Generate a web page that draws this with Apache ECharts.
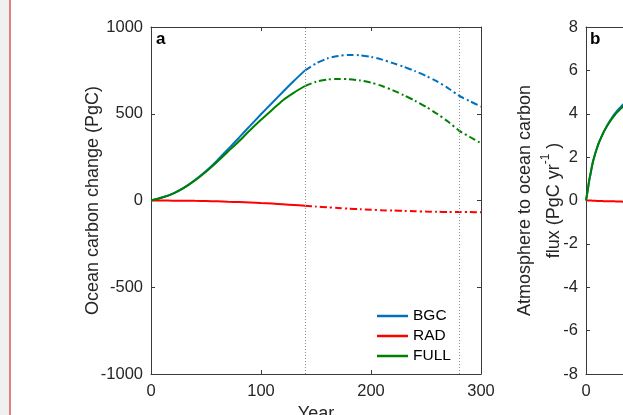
<!DOCTYPE html>
<html><head><meta charset="utf-8">
<script src="https://cdn.jsdelivr.net/npm/echarts@6/dist/echarts.min.js"></script>
<style>html,body{margin:0;padding:0;background:#fff}#c{width:623px;height:415px}</style>
</head><body><div id="c"></div>
<script>
// ---- Panel a data (cumulative ocean carbon change, PgC) ----
const yearsSolid = [0,10,20,30,40,50,60,70,80,90,100,110,120,130,140];
const bgcSolid  = [0,17,40,74,118,170,230,295,362,430,497,562,627,690,750];
const radSolid  = [0,0,-1,-1,-2,-3,-5,-7,-9,-12,-15,-18,-22,-26,-30];
const fullSolid = [0,17,40,73,116,166,222,282,342,405,465,522,578,622,660];

const yearsDash = [140,150,160,170,180,190,200,210,220,230,240,250,260,270,280,290,300];
const bgcDash  = [750,790,818,833,839,837,828,812,792,770,746,718,686,648,604,572,541];
const radDash  = [-30,-35,-39,-43,-47,-50,-53,-56,-58,-60,-62,-64,-65,-66,-66,-67,-68];
const fullDash = [660,684,697,701,699,692,679,660,635,606,575,540,500,455,403,366,330];

const phaseLines = [140, 280];

// ---- Panel b data (atmosphere to ocean flux, PgC/yr), visible part only ----
const yearsFlux = [0,1,2,3,4,6,8,10,12,14,16,18,20,22,24,26,28,30,32,34,36];
const bgcFlux  = [0,0.3,0.62,0.95,1.2,1.72,2.1,2.42,2.7,2.93,3.15,3.35,3.53,3.7,3.85,3.99,4.12,4.23,4.34,4.44,4.53];
const radFlux  = [0,0,0,0,0,-0.01,-0.01,-0.02,-0.02,-0.02,-0.03,-0.03,-0.03,-0.04,-0.04,-0.04,-0.05,-0.05,-0.05,-0.06,-0.06];
const fullFlux = [0,0.3,0.62,0.95,1.2,1.72,2.1,2.42,2.7,2.93,3.15,3.33,3.5,3.66,3.8,3.93,4.05,4.15,4.25,4.34,4.42];

const names = ['BGC','RAD','FULL'];
const colors = {BGC:'#0072BD', RAD:'#FF0000', FULL:'#008000'};

const FONT = '"Liberation Sans", Arial, Helvetica, sans-serif';
const AX = '#262626';
const plain = v => String(v);

function axisCommon(extra){
  return Object.assign({
    type:'value',
    nameMoveOverlap:false,
    axisLine:{show:true, onZero:false, lineStyle:{color:'#3a3a3a', width:1}},
    axisTick:{show:true, inside:true, length:4, lineStyle:{color:'#3a3a3a'}},
    splitLine:{show:false},
    axisLabel:{show:true, color:AX, fontSize:16.5, fontFamily:FONT, formatter:plain},
  }, extra);
}
function lbl(margin){ return {color:AX, fontSize:16.5, fontFamily:FONT, margin:margin, formatter:plain}; }

function zip(xs, ys){ return xs.map((x,i)=>[x, ys[i]]); }

const xAxes = [
  axisCommon({gridIndex:0, position:'bottom', min:0, max:300, interval:100, axisLabel:lbl(9),
    name:'Year', nameLocation:'middle', nameGap:31,
    nameTextStyle:{color:AX, fontSize:18, fontFamily:FONT}}),
  axisCommon({gridIndex:0, position:'top', min:0, max:300, interval:100, axisLabel:{show:false}}),
  axisCommon({gridIndex:1, position:'bottom', min:0, max:300, interval:100, axisLabel:lbl(9),
    name:'Year', nameLocation:'middle', nameGap:31,
    nameTextStyle:{color:AX, fontSize:18, fontFamily:FONT}}),
  axisCommon({gridIndex:1, position:'top', min:0, max:300, interval:100, axisLabel:{show:false}})
];

const yAxes = [
  axisCommon({gridIndex:0, position:'left', min:-1000, max:1000, interval:500, axisLabel:lbl(8),
    name:'Ocean carbon change (PgC)', nameLocation:'middle', nameRotate:90, nameGap:49,
    nameTextStyle:{color:AX, fontSize:18, fontFamily:FONT}}),
  axisCommon({gridIndex:0, position:'right', min:-1000, max:1000, interval:500, axisLabel:{show:false}}),
  axisCommon({gridIndex:1, position:'left', min:-8, max:8, interval:2, axisLabel:lbl(8),
    name:'{a|Atmosphere to ocean carbon}\n{a|flux (PgC yr}{s|-1}{a| )}',
    nameLocation:'middle', nameRotate:90, nameGap:17.5,
    nameTextStyle:{color:AX, fontFamily:FONT,
      rich:{a:{fontSize:18, lineHeight:29, color:AX, fontFamily:FONT},
            s:{fontSize:12, lineHeight:14, verticalAlign:'top', color:AX, fontFamily:FONT}}}}),
  axisCommon({gridIndex:1, position:'right', min:-8, max:8, interval:2, axisLabel:{show:false}})
];

const dashType = [7,3,2,3];
const series = [];
const solidA = {BGC:bgcSolid, RAD:radSolid, FULL:fullSolid};
const dashA  = {BGC:bgcDash, RAD:radDash, FULL:fullDash};
const fluxB  = {BGC:bgcFlux, RAD:radFlux, FULL:fullFlux};
names.forEach(n=>{
  series.push({name:n, type:'line', xAxisIndex:0, yAxisIndex:0, data:zip(yearsSolid, solidA[n]),
    showSymbol:false, smooth:0.25, z: n==='RAD'?3:(n==='FULL'?4:2),
    itemStyle:{color:colors[n]}, lineStyle:{color:colors[n], width:2}});
});
names.forEach(n=>{
  series.push({name:n, type:'line', xAxisIndex:0, yAxisIndex:0, data:zip(yearsDash, dashA[n]),
    showSymbol:false, smooth:0.25,
    itemStyle:{color:colors[n]}, lineStyle:{color:colors[n], width:2, type:dashType}});
});
names.forEach(n=>{
  series.push({name:n, type:'line', xAxisIndex:2, yAxisIndex:2, data:zip(yearsFlux, fluxB[n]),
    showSymbol:false, smooth:0.25, z: n==='FULL'?4:2,
    itemStyle:{color:colors[n]}, lineStyle:{color:colors[n], width:2}});
});
series.push({type:'line', xAxisIndex:0, yAxisIndex:0, data:[], silent:true,
  markLine:{silent:true, symbol:['none','none'], label:{show:false}, animation:false,
    lineStyle:{color:'#8c8c8c', type:[1,2], width:1},
    data: phaseLines.map(v=>({xAxis:v}))}});

const option = {
  animation:false,
  backgroundColor:'#ffffff',
  textStyle:{fontFamily:FONT},
  grid:[
    {left:151, top:27, width:330, height:347, outerBoundsMode:'none', containLabel:false},
    {left:586, top:27, width:330, height:347, outerBoundsMode:'none', containLabel:false}
  ],
  title:[
    {text:'a', left:156, top:31, padding:0, textStyle:{fontSize:17, fontWeight:'bold', color:'#000', fontFamily:FONT}},
    {text:'b', left:590, top:31, padding:0, textStyle:{fontSize:17, fontWeight:'bold', color:'#000', fontFamily:FONT}}
  ],
  legend:{data:names, orient:'vertical', left:377, top:306, itemWidth:31, itemHeight:2.5, itemGap:0,
    icon:'rect', padding:0,
    textStyle:{fontSize:15.5, lineHeight:20, color:'#000', fontFamily:FONT}},
  graphic:[
    {type:'rect', left:0, top:0, shape:{x:0, y:0, width:9, height:415}, style:{fill:'#f0f0f0'}, silent:true},
    {type:'rect', left:9, top:0, shape:{x:0, y:0, width:2, height:415}, style:{fill:'#e77f80'}, silent:true}
  ],
  xAxis:xAxes,
  yAxis:yAxes,
  series:series
};

const chart = echarts.init(document.getElementById('c'), null, {renderer:'canvas'});
chart.setOption(option);
</script></body></html>
